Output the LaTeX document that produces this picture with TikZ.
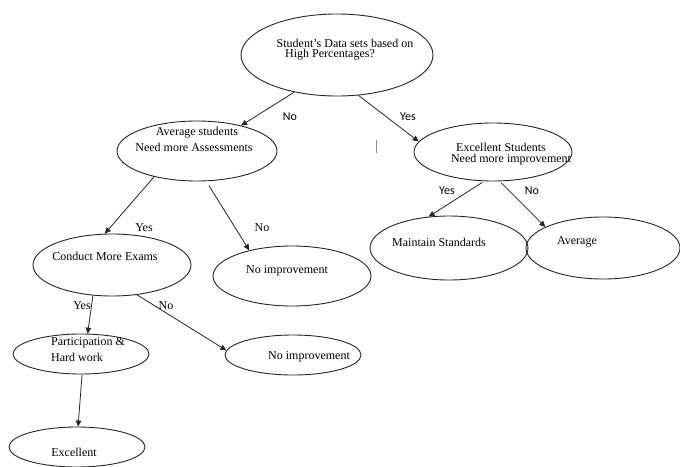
\documentclass[tikz,border=0pt]{standalone}
\usepackage{fontspec}
\setmainfont{Liberation Serif}
\newfontfamily\lblsans{Carlito}
\usetikzlibrary{shapes.geometric,arrows.meta}
\begin{document}
\begin{tikzpicture}[x=1pt,y=-1pt,
  oval/.style={ellipse,draw=black!85,line width=0.9pt,inner sep=0pt},
  txt/.style={inner sep=0pt,font=\fontsize{12}{13}\selectfont},
  lbls/.style={inner sep=0pt,font=\lblsans\fontsize{12}{13}\selectfont},
  lblr/.style={inner sep=0pt,font=\fontsize{12}{13}\selectfont},
  arr/.style={draw=black!85,line width=0.8pt,-{Triangle[length=6pt,width=5.5pt]}}]
\clip (0,0) rectangle (680,466);
% ellipses
\node[oval,minimum width=192pt,minimum height=82pt] (top) at (337,55) {};
\node[oval,minimum width=160pt,minimum height=60pt] (avg) at (197,151) {};
\node[oval,minimum width=158pt,minimum height=58pt] (exc) at (493,152) {};
\node[oval,minimum width=158pt,minimum height=62pt] (cond) at (112,265) {};
\node[oval,minimum width=158pt,minimum height=60pt] (noA) at (292,276) {};
\node[oval,minimum width=158pt,minimum height=64pt] (maint) at (449,248) {};
\node[oval,minimum width=154pt,minimum height=62pt] (avgR) at (603,248) {};
\node[oval,minimum width=136pt,minimum height=40pt] (part) at (81,354) {};
\node[oval,minimum width=136pt,minimum height=40pt] (noB) at (293,355) {};
\node[oval,minimum width=136pt,minimum height=40pt] (excl) at (77,447) {};
% texts
\node[txt] (t1a) at (345,43) {Student’s Data sets based on};
\node[txt] (t1b) at (330,55) {High Percentages?};
\node[txt] (t2a) at (197,133) {Average students};
\node[txt] (t2b) at (194,147) {Need more Assessments};
\node[txt] (t3a) at (501,147) {Excellent Students};
\node[txt] (t3b) at (511,160) {Need more improvement};
\node[txt] (t4) at (105,256) {Conduct More Exams};
\node[txt] (t5) at (287,271) {No improvement};
\node[txt] (t6) at (439,242) {Maintain Standards};
\node[txt] (t7) at (577,242) {Average};
\node[txt,anchor=west] (t8a) at (51,343) {Participation \&};
\node[txt,anchor=west] (t8b) at (51,357) {Hard work};
\node[txt] (t9) at (309,357) {No improvement};
\node[txt] (t10) at (74,452) {Excellent};
% connectors
\draw[arr] (top.221) -- (avg.30);
\draw[arr] (top.298) -- (exc.172);
\draw[arr] (avg.211) -- (cond.103);
\draw[arr,shorten <=5pt] (avg.287) -- (noA.149);
\draw[arr,shorten <=2pt] (exc.253) -- (maint.123);
\draw[arr,shorten <=2pt] (exc.283) -- (avgR.160);
\draw[arr] (cond.238) -- (part.72);
\draw[arr] (cond.310) -- (noB.176);
\draw[arr] (part.273) -- (excl.87);
% labels
\node[lbls] (l1) at (290,117) {No};
\node[lbls] (l2) at (408,117) {Yes};
\node[lblr] (l3) at (144,228) {Yes};
\node[lblr] (l4) at (262,228) {No};
\node[lbls] (l5) at (447,191) {Yes};
\node[lbls] (l6) at (532,191) {No};
\node[lblr] (l7) at (82,306) {Yes};
\node[lblr] (l8) at (166,306) {No};
% stray mark
\coordinate (m1) at (376,140);
\coordinate (m2) at (376,153);
\draw[black!45,line width=0.7pt] (m1) -- (m2);
\end{tikzpicture}
\end{document}
